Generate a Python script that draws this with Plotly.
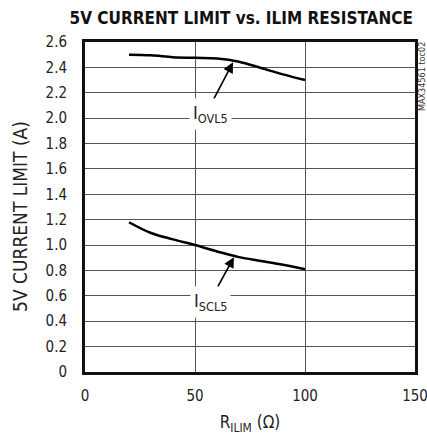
import plotly.graph_objects as go

r_ilim = [20, 30, 40, 50, 60, 70, 80, 90, 100]
i_ovl5 = [2.50, 2.495, 2.48, 2.475, 2.47, 2.445, 2.395, 2.345, 2.30]
i_scl5 = [1.18, 1.095, 1.045, 1.0, 0.95, 0.905, 0.875, 0.845, 0.81]

x_ticks = [0, 50, 100, 150]
y_ticks = [0, 0.2, 0.4, 0.6, 0.8, 1.0, 1.2, 1.4, 1.6, 1.8, 2.0, 2.2, 2.4, 2.6]
y_ticklabels = ["0", "0.2", "0.4", "0.6", "0.8", "1.0", "1.2", "1.4", "1.6", "1.8", "2.0", "2.2", "2.4", "2.6"]

FONT = "DejaVu Sans Condensed, Roboto, sans-serif"

fig = go.Figure()
fig.add_trace(go.Scatter(x=r_ilim, y=i_ovl5, mode="lines", line=dict(color="black", width=2.5, shape="spline"), showlegend=False))
fig.add_trace(go.Scatter(x=r_ilim, y=i_scl5, mode="lines", line=dict(color="black", width=2.5, shape="spline"), showlegend=False))

annotations = [
    dict(x=67.3, y=2.44, ax=58.2, ay=2.14, xref="x", yref="y", axref="x", ayref="y", text="",
         showarrow=True, arrowhead=2, arrowsize=1.3, arrowwidth=1.6, arrowcolor="black"),
    dict(x=57, y=2.03, xref="x", yref="y", text="I<sub>OVL5</sub>", showarrow=False,
         bgcolor="white", font=dict(family=FONT, size=18, color="#222"), borderpad=3),
    dict(x=67.7, y=0.905, ax=60, ay=0.66, xref="x", yref="y", axref="x", ayref="y", text="",
         showarrow=True, arrowhead=2, arrowsize=1.3, arrowwidth=1.6, arrowcolor="black"),
    dict(x=57, y=0.55, xref="x", yref="y", text="I<sub>SCL5</sub>", showarrow=False,
         bgcolor="white", font=dict(family=FONT, size=18, color="#222"), borderpad=3),
    dict(x=1.0, y=0.894, xref="paper", yref="paper", text="MAX34561 toc02", showarrow=False,
         textangle=-90, xanchor="center", yanchor="middle", xshift=7,
         font=dict(family=FONT, size=9, color="#333")),
    dict(x=-0.197, y=0.473, xref="paper", yref="paper", text="5V CURRENT LIMIT (A)", showarrow=False,
         textangle=-90, xanchor="center", yanchor="middle",
         font=dict(family=FONT, size=19, color="#222")),
]

fig.update_layout(
    width=427, height=438,
    margin=dict(l=85, r=12, t=42, b=66),
    plot_bgcolor="white", paper_bgcolor="white",
    title=dict(text="<b>5V CURRENT LIMIT vs. ILIM RESISTANCE</b>", x=0.967, xanchor="right",
               y=0.972, yanchor="top", pad=dict(t=0, b=0, l=0, r=0),
               font=dict(family=FONT, size=17, color="#111")),
    font=dict(family=FONT, color="#222"),
    annotations=annotations,
    hovermode=False,
    xaxis=dict(range=[0, 150], tickvals=x_ticks, ticktext=[str(v) for v in x_ticks],
               automargin=False, ticklabeloverflow="allow",
               showline=True, linecolor="#111", linewidth=3, mirror=True,
               showgrid=True, gridcolor="#555", gridwidth=1, zeroline=False,
               ticks="", ticklabelstandoff=8, tickfont=dict(size=15, family=FONT, color="#222"),
               title=dict(text="R<sub>ILIM</sub> (Ω)", font=dict(size=17, family=FONT, color="#222"), standoff=13)),
    yaxis=dict(range=[0, 2.6], tickvals=y_ticks, ticktext=y_ticklabels,
               automargin=False, ticklabeloverflow="allow",
               showline=True, linecolor="#111", linewidth=3, mirror=True,
               showgrid=True, gridcolor="#555", gridwidth=1, zeroline=False,
               ticks="", ticklabelstandoff=12, tickfont=dict(size=15, family=FONT, color="#222")),
)

fig.write_html("out.html",
               config={"displayModeBar": False, "staticPlot": True},
               post_script="document.body.style.margin='0';document.body.style.overflow='hidden';")
